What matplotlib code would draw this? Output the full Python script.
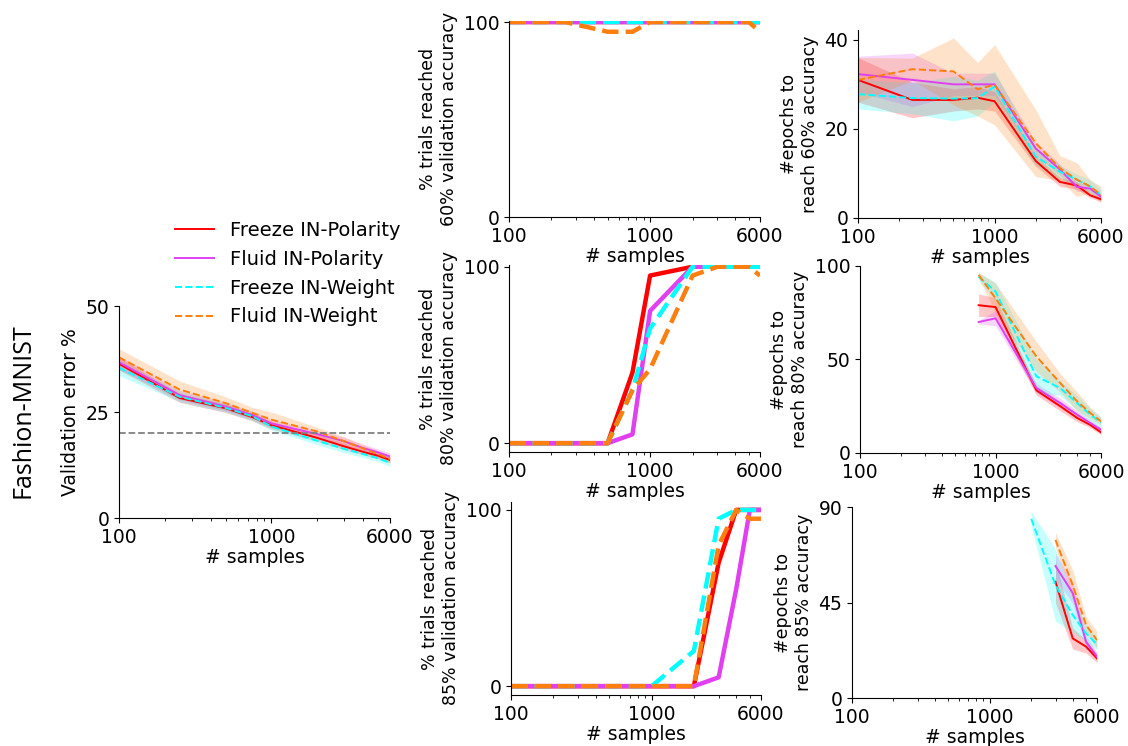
import matplotlib
matplotlib.use("Agg")
import matplotlib.pyplot as plt
import matplotlib.ticker as mticker
import numpy as np

nan = np.nan

# number of training samples
samples = [100, 250, 500, 750, 1000, 2000, 3000, 4000, 5000, 6000]

labels = ['Freeze IN-Polarity', 'Fluid IN-Polarity', 'Freeze IN-Weight', 'Fluid IN-Weight']
colors = ['red', '#e040f0', 'cyan', '#ff7f0e']
styles = ['-', '-', '--', '--']

# validation error %
err_freeze_pol = [36.4, 28.3, 25.9, 23.8, 21.9, 18.9, 16.9, 15.6, 14.7, 13.7]
err_fluid_pol = [36.7, 29.0, 26.3, 24.3, 22.3, 19.8, 18.1, 16.5, 15.5, 14.5]
err_freeze_w = [35.4, 28.6, 26.0, 24.0, 21.6, 18.2, 16.3, 15.1, 14.1, 13.0]
err_fluid_w = [37.9, 30.3, 27.1, 24.8, 23.2, 20.4, 18.1, 16.4, 15.1, 13.9]
err_sd_freeze_pol = [1.5, 1.0, 1.0, 0.9, 0.9, 0.8, 0.8, 0.7, 0.7, 0.7]
err_sd_fluid_pol = [1.6, 1.1, 1.0, 0.9, 0.9, 0.9, 1.0, 0.9, 0.8, 0.8]
err_sd_freeze_w = [1.8, 1.2, 1.0, 1.0, 0.9, 0.9, 0.9, 0.8, 0.8, 0.8]
err_sd_fluid_w = [2.0, 2.0, 1.5, 1.3, 1.8, 1.0, 1.0, 0.9, 0.8, 0.8]
err_threshold = 20

# % trials that reached 60 / 80 / 85 % validation accuracy
p60_freeze_pol = [100, 100, 100, 100, 100, 100, 100, 100, 100, 100]
p60_fluid_pol = [100, 100, 100, 100, 100, 100, 100, 100, 100, 100]
p60_freeze_w = [100, 100, 100, 100, 100, 100, 100, 100, 100, 100]
p60_fluid_w = [100, 100, 95, 95, 100, 100, 100, 100, 100, 95]

p80_freeze_pol = [0, 0, 0, 40, 95, 100, 100, 100, 100, 100]
p80_fluid_pol = [0, 0, 0, 5, 75, 100, 100, 100, 100, 100]
p80_freeze_w = [0, 0, 0, 30, 65, 100, 100, 100, 100, 100]
p80_fluid_w = [0, 0, 0, 30, 42, 95, 100, 100, 100, 95]

p85_freeze_pol = [0, 0, 0, 0, 0, 0, 70, 100, 100, 100]
p85_fluid_pol = [0, 0, 0, 0, 0, 0, 5, 55, 100, 100]
p85_freeze_w = [0, 0, 0, 0, 0, 20, 95, 100, 100, 100]
p85_fluid_w = [0, 0, 0, 0, 0, 0, 80, 100, 95, 95]

# epochs to reach 60 % accuracy (mean, sd)
e60_freeze_pol = [31.0, 26.5, 26.5, 27.0, 26.2, 12.8, 8.1, 7.3, 5.1, 4.2]
e60_fluid_pol = [32.3, 31.0, 30.0, 30.0, 30.0, 15.6, 10.9, 7.0, 6.6, 4.8]
e60_freeze_w = [27.8, 26.9, 26.8, 26.9, 29.5, 13.8, 10.4, 8.6, 7.1, 5.2]
e60_fluid_w = [31.0, 33.4, 32.9, 28.9, 29.9, 16.8, 11.2, 8.6, 7.1, 5.2]
e60_sd_freeze_pol = [5.0, 4.0, 2.5, 2.5, 2.2, 1.2, 1.0, 0.8, 0.6, 0.5]
e60_sd_fluid_pol = [4.0, 6.0, 2.5, 2.5, 2.5, 1.5, 1.2, 1.0, 0.8, 0.6]
e60_sd_freeze_w = [3.3, 3.5, 5.0, 4.0, 3.5, 2.0, 1.5, 1.2, 1.5, 1.2]
e60_sd_fluid_w = [5.0, 2.5, 7.5, 6.0, 9.0, 7.5, 2.8, 3.8, 1.5, 1.9]

# epochs to reach 80 % accuracy
e80_freeze_pol = [nan, nan, nan, 79.0, 78.0, 33.5, 25.0, 18.7, 15.0, 11.0]
e80_fluid_pol = [nan, nan, nan, 70.0, 72.0, 34.7, 26.7, 20.5, 16.0, 12.5]
e80_freeze_w = [nan, nan, nan, 94.3, 86.3, 41.0, 34.7, 26.7, 20.5, 16.4]
e80_fluid_w = [nan, nan, nan, 95.2, 82.7, 51.6, 37.4, 27.6, 21.4, 16.9]
e80_sd_freeze_pol = [nan, nan, nan, 6.0, 5.0, 2.5, 2.5, 2.0, 1.5, 1.2]
e80_sd_fluid_pol = [nan, nan, nan, 1.0, 4.0, 2.5, 2.5, 2.0, 1.5, 1.2]
e80_sd_freeze_w = [nan, nan, nan, 2.0, 5.0, 9.0, 4.0, 4.0, 3.5, 3.0]
e80_sd_fluid_w = [nan, nan, nan, 1.5, 8.0, 8.0, 5.0, 5.0, 3.0, 2.0]

# epochs to reach 85 % accuracy
e85_freeze_pol = [nan, nan, nan, nan, nan, nan, 54.8, 28.1, 24.2, 18.7]
e85_fluid_pol = [nan, nan, nan, nan, nan, nan, 62.2, 49.5, 26.5, 19.5]
e85_freeze_w = [nan, nan, nan, nan, nan, 84.4, 53.2, 39.1, 30.5, 25.3]
e85_fluid_w = [nan, nan, nan, nan, nan, nan, 74.5, 53.2, 34.4, 27.3]
e85_sd_freeze_pol = [nan, nan, nan, nan, nan, nan, 10.0, 5.0, 3.0, 2.0]
e85_sd_fluid_pol = [nan, nan, nan, nan, nan, nan, 6.0, 5.0, 3.0, 2.0]
e85_sd_freeze_w = [nan, nan, nan, nan, nan, 3.5, 17.0, 8.0, 4.0, 2.5]
e85_sd_fluid_w = [nan, nan, nan, nan, nan, nan, 3.5, 7.0, 4.0, 4.0]

tick_fs = 13.5
label_fs = 13.5
ylab_fs = 12.5

fig = plt.figure(figsize=(11.28, 7.46), dpi=100)


def style_axis(ax, ylim, yticks):
    ax.set_xscale('log')
    ax.set_xlim(100, 6000)
    ax.set_xticks([100, 1000, 6000], labels=['100', '1000', '6000'])
    ax.xaxis.set_minor_formatter(mticker.NullFormatter())
    ax.set_ylim(*ylim)
    ax.set_yticks(yticks)
    ax.spines['top'].set_visible(False)
    ax.spines['right'].set_visible(False)
    ax.tick_params(labelsize=tick_fs)
    ax.set_xlabel('# samples', fontsize=label_fs, labelpad=1)


def band_panel(ax, means, sds, ylim, yticks, ylabel):
    x = np.array(samples)
    for m, s, c in zip(means, sds, colors):
        m = np.array(m)
        s = np.array(s)
        ax.fill_between(x, m - s, m + s, color=c, alpha=0.22, linewidth=0)
    for m, c, ls, lab in zip(means, colors, styles, labels):
        ax.plot(x, m, color=c, linestyle=ls, linewidth=1.4, label=lab)
    style_axis(ax, ylim, yticks)
    ax.set_ylabel(ylabel, fontsize=ylab_fs)


def trials_panel(ax, values, ylim, ylabel):
    for v, c, ls in zip(values, colors, styles):
        ax.plot(samples, v, color=c, linestyle=ls, linewidth=3.2)
    style_axis(ax, ylim, [0, 100])
    ax.set_ylabel(ylabel, fontsize=ylab_fs)


# left: validation error
ax_err = fig.add_axes([0.1055, 0.3056, 0.2402, 0.2842])
band_panel(ax_err,
           [err_freeze_pol, err_fluid_pol, err_freeze_w, err_fluid_w],
           [err_sd_freeze_pol, err_sd_fluid_pol, err_sd_freeze_w, err_sd_fluid_w],
           (0, 50), [0, 25, 50], 'Validation error %')
ax_err.axhline(err_threshold, color='gray', linestyle='--', linewidth=1.3)
ax_err.set_ylabel('Validation error %', fontsize=label_fs)

handles, leg_labels = ax_err.get_legend_handles_labels()
fig.legend(handles, leg_labels, loc='upper left', bbox_to_anchor=(0.14, 0.727),
           frameon=False, fontsize=14)

fig.text(0.02, 0.449, 'Fashion-MNIST', rotation=90, fontsize=18,
         family='Open Sans', ha='center', va='center')

# middle column: % trials reached accuracy
ax = fig.add_axes([0.4512, 0.7091, 0.2225, 0.2627])
trials_panel(ax, [p60_freeze_pol, p60_fluid_pol, p60_freeze_w, p60_fluid_w],
             (0, 100.5), '% trials reached\n60% validation accuracy')

ax = fig.add_axes([0.4512, 0.3941, 0.2225, 0.2507])
trials_panel(ax, [p80_freeze_pol, p80_fluid_pol, p80_freeze_w, p80_fluid_w],
             (-5, 101), '% trials reached\n80% validation accuracy')

ax = fig.add_axes([0.453, 0.0684, 0.2216, 0.2587])
trials_panel(ax, [p85_freeze_pol, p85_fluid_pol, p85_freeze_w, p85_fluid_w],
             (-5, 104.5), '% trials reached\n85% validation accuracy')

# right column: epochs to reach accuracy
ax = fig.add_axes([0.7606, 0.7078, 0.2154, 0.252])
band_panel(ax, [e60_freeze_pol, e60_fluid_pol, e60_freeze_w, e60_fluid_w],
           [e60_sd_freeze_pol, e60_sd_fluid_pol, e60_sd_freeze_w, e60_sd_fluid_w],
           (0, 42.2), [0, 20, 40], '#epochs to\nreach 60% accuracy')

ax = fig.add_axes([0.7624, 0.3928, 0.2137, 0.2507])
band_panel(ax, [e80_freeze_pol, e80_fluid_pol, e80_freeze_w, e80_fluid_w],
           [e80_sd_freeze_pol, e80_sd_fluid_pol, e80_sd_freeze_w, e80_sd_fluid_w],
           (0, 100), [0, 50, 100], '#epochs to\nreach 80% accuracy')

ax = fig.add_axes([0.7553, 0.0643, 0.2172, 0.256])
band_panel(ax, [e85_freeze_pol, e85_fluid_pol, e85_freeze_w, e85_fluid_w],
           [e85_sd_freeze_pol, e85_sd_fluid_pol, e85_sd_freeze_w, e85_sd_fluid_w],
           (0, 90), [0, 45, 90], '#epochs to\nreach 85% accuracy')

plt.savefig('out.png', dpi=100)
